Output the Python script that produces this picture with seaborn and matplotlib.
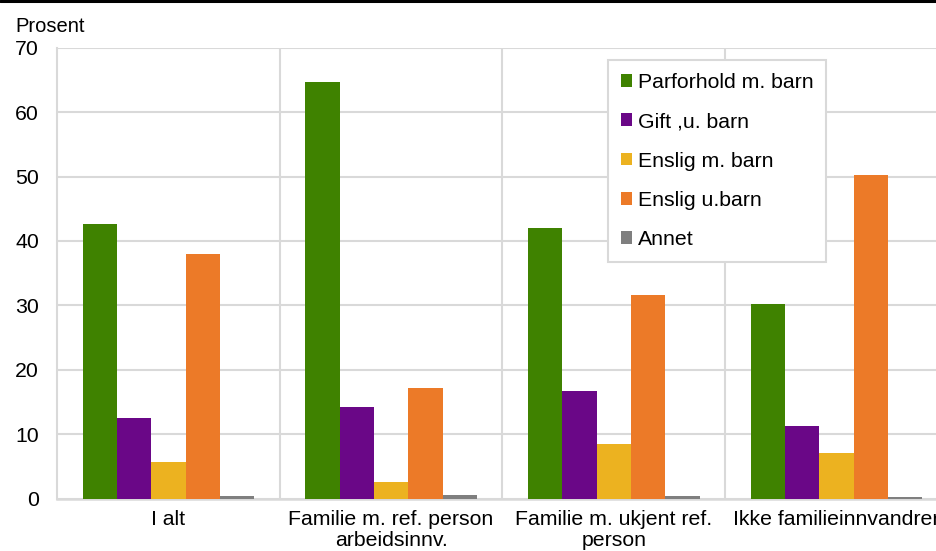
import matplotlib
matplotlib.use("Agg")
import matplotlib.pyplot as plt
import seaborn as sns
import pandas as pd
from matplotlib.lines import Line2D

categories = ["I alt", "Familie m. ref. person\narbeidsinnv.", "Familie m. ukjent ref.\nperson", "Ikke familieinnvandrer"]
series = ["Parforhold m. barn", "Gift ,u. barn", "Enslig m. barn", "Enslig u.barn", "Annet"]
parforhold_m_barn = [42.7, 64.6, 42.0, 30.2]
gift_u_barn = [12.5, 14.2, 16.7, 11.3]
enslig_m_barn = [5.6, 2.5, 8.5, 7.1]
enslig_u_barn = [38.0, 17.2, 31.6, 50.2]
annet = [0.4, 0.5, 0.4, 0.3]
colors = ["#3f8200", "#6a0787", "#ecb220", "#ec7a28", "#7f7f7f"]
yticks = [0, 10, 20, 30, 40, 50, 60, 70]

values = [parforhold_m_barn, gift_u_barn, enslig_m_barn, enslig_u_barn, annet]
rows = []
for s, vals in zip(series, values):
    for c, v in zip(categories, vals):
        rows.append({"kategori": c, "serie": s, "verdi": v})
df = pd.DataFrame(rows)

sns.set_theme(style="white")
plt.rcParams["font.family"] = ["Liberation Sans", "DejaVu Sans"]
plt.rcParams["text.color"] = "black"
plt.rcParams["axes.labelcolor"] = "black"
FS = 15.3

fig = plt.figure(figsize=(9.37, 5.51), dpi=100)
ax = fig.add_axes([57/937, (551-498.5)/551, (948-57)/937, (498.5-47.7)/551])

sns.barplot(data=df, x="kategori", y="verdi", hue="serie", order=categories,
            hue_order=series, palette=colors, width=0.77, saturation=1,
            linewidth=0, ax=ax, legend=True)

ax.set_ylim(0, 70)
ax.set_xlim(-0.5, len(categories) - 0.5)
ax.set_yticks(yticks)
ax.set_yticklabels([str(t) for t in yticks], fontsize=FS, color="black")
ax.set_xticks(range(len(categories)))
ax.set_xticklabels(categories, fontsize=FS, linespacing=1.18, color="black")
ax.set_xlabel("")
ax.set_ylabel("")
ax.tick_params(axis="both", length=0, colors="black")
ax.tick_params(axis="y", pad=13)
ax.tick_params(axis="x", pad=8)

ax.set_xticks([0.5, 1.5, 2.5], minor=True)
ax.grid(False)
ax.yaxis.grid(True, color="#d9d9d9", linewidth=1.5)
ax.xaxis.grid(True, which="minor", color="#d9d9d9", linewidth=1.5)
ax.set_axisbelow(True)
for s in ["top", "right"]:
    ax.spines[s].set_visible(False)
ax.spines["left"].set_color("#d9d9d9")
ax.spines["left"].set_linewidth(1.5)
ax.spines["bottom"].set_color("#d9d9d9")
ax.spines["bottom"].set_linewidth(1.8)
ax.spines["bottom"].set_zorder(0.5)

handles, labels = ax.get_legend_handles_labels()
leg = ax.legend(handles, labels, loc="upper left",
          bbox_to_anchor=(608/937, 1 - 60/551), bbox_transform=fig.transFigure,
          borderaxespad=0, fontsize=FS, frameon=True, fancybox=False,
          edgecolor="#d9d9d9", handlelength=0.55, handleheight=0.55,
          handletextpad=0.25, labelspacing=0.96, borderpad=0.6, framealpha=1,
          labelcolor="black")
leg.get_frame().set_linewidth(1.5)

fig.text(15/937, 1 - 26/551, "Prosent", fontsize=14.5, ha="left", va="center", color="black")
fig.add_artist(Line2D([0, 1], [1 - 1/551, 1 - 1/551], transform=fig.transFigure,
                      color="black", linewidth=2.2))

fig.savefig("out.png", dpi=100)
